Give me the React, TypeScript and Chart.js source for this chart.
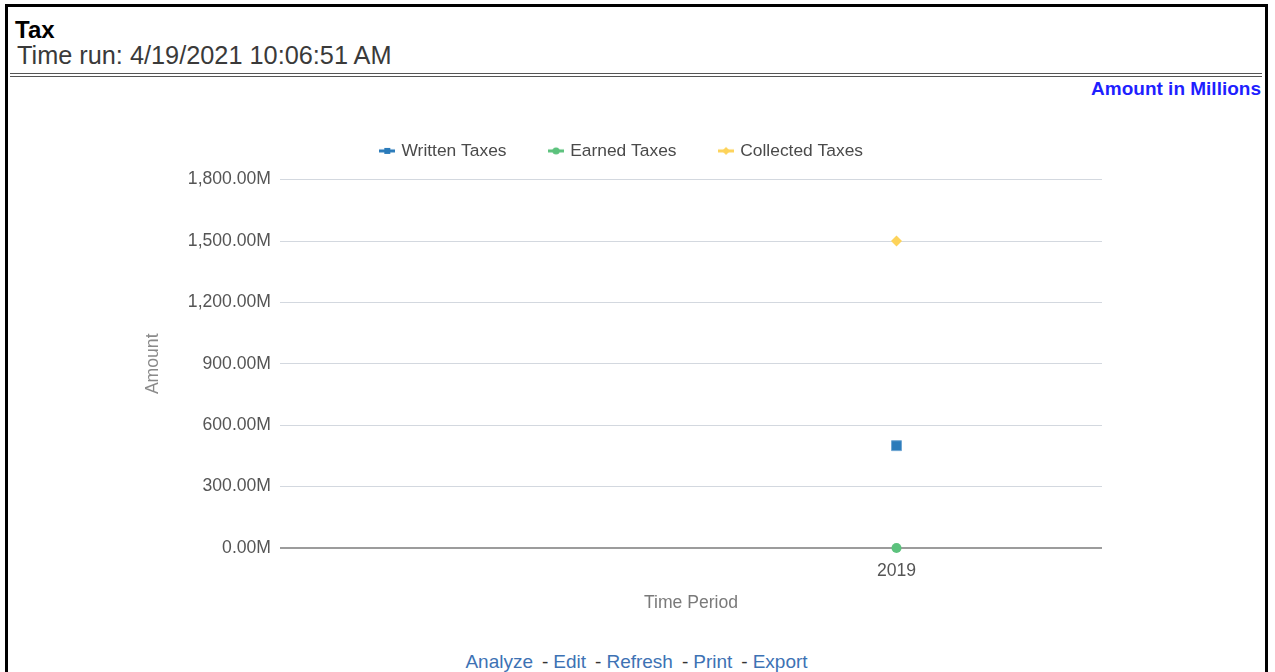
import { useEffect, useRef } from "react";
import { Chart, registerables } from "chart.js";

Chart.register(...registerables);

const FONT = '"Liberation Sans", Arial, Helvetica, sans-serif';

// Reporting periods (the first slot is an empty period with no data)
const periods = ["", "2019"];

// Amounts, in millions
const writtenTaxes = [null, 500];
const earnedTaxes = [null, 0];
const collectedTaxes = [null, 1500];

const yTicks = [0, 300, 600, 900, 1200, 1500, 1800];

const seriesNames = ["Written Taxes", "Earned Taxes", "Collected Taxes"];
const seriesColors = ["#2b7bba", "#5cc27d", "#fdd35a"];

const footerLinks = ["Analyze", "Edit", "Refresh", "Print", "Export"];

type Shape = "square" | "circle" | "diamond";

// Small "line with marker" swatch used for each legend entry
function legendMarker(color: string, shape: Shape): HTMLCanvasElement {
  const c = document.createElement("canvas");
  c.width = 16;
  c.height = 10;
  const g = c.getContext("2d")!;
  g.fillStyle = color;
  g.fillRect(0, 3.5, 16, 3);
  g.beginPath();
  if (shape === "square") {
    g.rect(5, 2, 6, 6);
  } else if (shape === "circle") {
    g.arc(8, 5, 3.6, 0, Math.PI * 2);
  } else {
    g.moveTo(8, 1);
    g.lineTo(12, 5);
    g.lineTo(8, 9);
    g.lineTo(4, 5);
    g.closePath();
  }
  g.fill();
  return c;
}

const legendGap = {
  id: "legendGap",
  beforeInit(chart: any) {
    const legend = chart.legend;
    if (!legend) return;
    const fit = legend.fit;
    legend.fit = function () {
      fit.call(this);
      this.height += 10;
    };
  },
};

function formatMillions(v: number): string {
  return (
    v.toLocaleString("en-US", {
      minimumFractionDigits: 2,
      maximumFractionDigits: 2,
    }) + "M"
  );
}

function TaxChart() {
  const ref = useRef<HTMLCanvasElement | null>(null);

  useEffect(() => {
    if (!ref.current) return;
    const font = { family: FONT, size: 17.6 };
    const legendFont = { family: FONT, size: 17.4 };
    const shapes: Shape[] = ["square", "circle", "diamond"];
    const markers = shapes.map((s, i) => legendMarker(seriesColors[i], s));

    const chart = new Chart(ref.current, {
      type: "line",
      data: {
        labels: periods,
        datasets: [
          {
            label: seriesNames[0],
            data: writtenTaxes,
            borderColor: seriesColors[0],
            backgroundColor: seriesColors[0],
            pointStyle: "rect",
            pointRadius: 7,
            pointBorderWidth: 1,
            pointBorderColor: "#6fa6d3",
            showLine: false,
            clip: false,
          },
          {
            label: seriesNames[1],
            data: earnedTaxes,
            borderColor: seriesColors[1],
            backgroundColor: seriesColors[1],
            pointStyle: "circle",
            pointRadius: 5,
            pointBorderWidth: 0,
            showLine: false,
            clip: false,
          },
          {
            label: seriesNames[2],
            data: collectedTaxes,
            borderColor: seriesColors[2],
            backgroundColor: seriesColors[2],
            pointStyle: "rectRot",
            pointRadius: 5.5,
            pointBorderWidth: 0,
            showLine: false,
            clip: false,
          },
        ],
      },
      options: {
        responsive: false,
        animation: false,
        layout: {
          padding: { left: 142.8, right: 173, top: 18.2, bottom: 26.4 },
        },
        plugins: {
          tooltip: { enabled: false },
          legend: {
            position: "top",
            labels: {
              font: legendFont,
              color: "#4a4a4a",
              usePointStyle: true,
              boxWidth: 11,
              boxHeight: 11,
              padding: 44,
              generateLabels: (c: any) => {
                const items = (Chart.defaults.plugins.legend.labels as any).generateLabels(c);
                return items.map((it: any, i: number) => ({
                  ...it,
                  pointStyle: markers[i],
                }));
              },
            },
          },
        },
        scales: {
          x: {
            offset: true,
            grid: { display: false, drawTicks: false },
            border: { display: false },
            ticks: { font, color: "#555", padding: 13, maxRotation: 0 },
            title: {
              display: true,
              text: "Time Period",
              font,
              color: "#7a7a7a",
              padding: { top: 0, bottom: 0 },
            },
            afterFit: (s: any) => {
              s.height = 65.6;
            },
          },
          y: {
            min: yTicks[0],
            max: yTicks[yTicks.length - 1],
            border: { display: false },
            grid: {
              drawTicks: false,
              color: (ctx: any) => (ctx.tick && ctx.tick.value === 0 ? "#9c9c9c" : "#d3d8df"),
              lineWidth: (ctx: any) => (ctx.tick && ctx.tick.value === 0 ? 2 : 1),
            },
            ticks: {
              font,
              color: "#555",
              padding: 9,
              callback: (v: any) => formatMillions(Number(v)),
            },
            afterBuildTicks: (s: any) => {
              s.ticks = yTicks.map((v) => ({ value: v }));
            },
            title: {
              display: true,
              text: "Amount",
              font,
              color: "#8a8a8a",
              padding: { top: 0, bottom: 0 },
            },
            afterFit: (s: any) => {
              s.width = 137.2;
            },
          },
        },
      },
      plugins: [legendGap],
    } as any);

    return () => chart.destroy();
  }, []);

  return (
    <canvas
      ref={ref}
      width={1275}
      height={560}
      style={{ position: "fixed", left: 0, top: 80, width: 1275, height: 560 }}
    />
  );
}

export default function App() {
  return (
    <>
      <div
        style={{
          position: "fixed",
          left: 5,
          top: 4,
          width: 1263,
          height: 720,
          border: "3px solid #000",
          boxSizing: "border-box",
          fontFamily: FONT,
          background: "#fff",
        }}
      >
        <div
          style={{
            position: "absolute",
            left: 7,
            top: 8.5,
            fontSize: 24,
            fontWeight: "bold",
            color: "#000",
            whiteSpace: "nowrap",
          }}
        >
          Tax
        </div>
        <div
          style={{
            position: "absolute",
            left: 9,
            top: 34.2,
            fontSize: 25.3,
            color: "#3a3a3a",
            whiteSpace: "nowrap",
          }}
        >
          Time run: 4/19/2021 10:06:51 AM
        </div>
        <div
          style={{
            position: "absolute",
            left: 2,
            top: 66,
            width: 1252,
            borderTop: "4px double #555",
          }}
        />
        <div
          style={{
            position: "absolute",
            right: 4,
            top: 70.6,
            fontSize: 19,
            fontWeight: "bold",
            color: "#1f1fff",
            whiteSpace: "nowrap",
          }}
        >
          Amount in Millions
        </div>
        <div
          style={{
            position: "absolute",
            left: 0,
            right: 0,
            top: 643.6,
            textAlign: "center",
            fontSize: 19,
            whiteSpace: "nowrap",
          }}
        >
          {footerLinks.map((name, i) => (
            <span key={name}>
              {i > 0 && (
                <span style={{ color: "#333", margin: "0 5px 0 9px" }}>-</span>
              )}
              <span style={{ color: "#3d72b4" }}>{name}</span>
            </span>
          ))}
        </div>
      </div>
      <TaxChart />
    </>
  );
}
